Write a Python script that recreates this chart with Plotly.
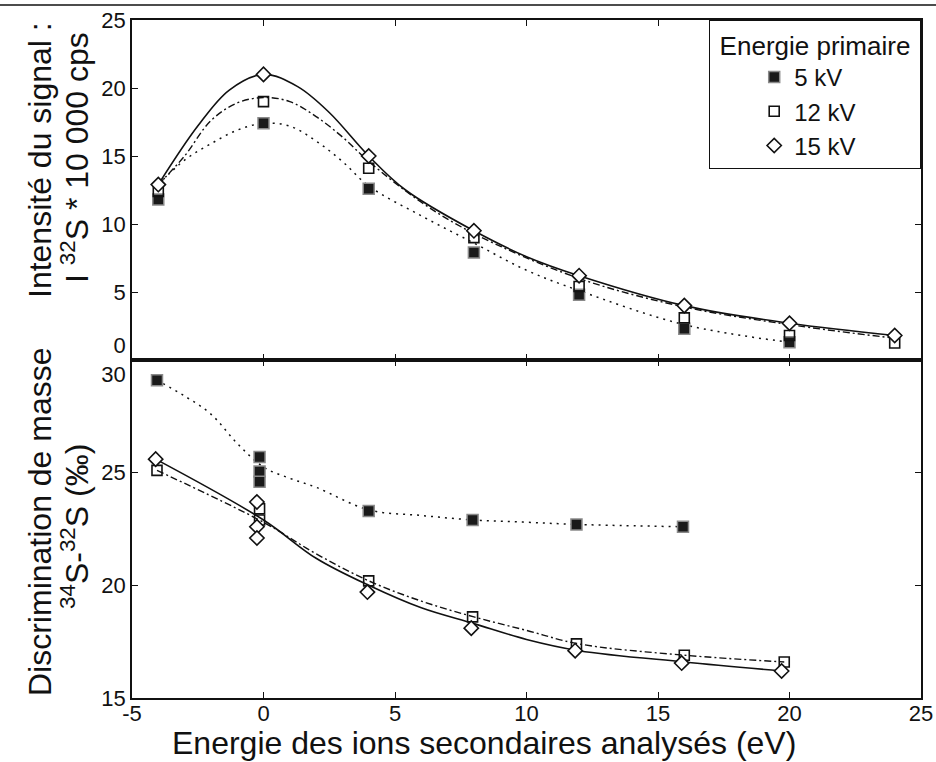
import plotly.graph_objects as go

# ---------------- data ----------------
# Top panel: signal intensity  I 32S * 10 000 cps
x_top = [-4, 0, 4, 8, 12, 16, 20, 24]
top_15kV = [12.9, 21.0, 15.0, 9.5, 6.2, 4.0, 2.7, 1.8]
top_12kV = [12.4, 19.0, 14.1, 9.0, 5.4, 3.1, 1.8, 1.25]
x_top_5kV = [-4, 0, 4, 8, 12, 16, 20]
top_5kV = [11.8, 17.4, 12.6, 7.9, 4.8, 2.3, 1.3]

# fitted curves, top panel
fit_top_15_x = [-4, -2.5, -1.3, 0, 1.3, 2.5, 4, 5.4, 8, 10, 12, 16, 20, 24]
fit_top_15_y = [12.9, 17.2, 19.85, 21.0, 20.1, 18.2, 15.0, 12.5, 9.5, 7.6, 6.2, 4.0, 2.7, 1.8]
fit_top_12_x = [-4, -3, -2, -1, 0, 1, 2, 3, 4, 6, 8, 12, 16, 20, 24]
fit_top_12_y = [12.9, 15.0, 17.6, 18.9, 19.3, 19.0, 17.9, 16.4, 14.6, 11.6, 9.3, 6.0, 3.9, 2.6, 1.6]
fit_top_5_x = [-4, -3, -2, -1, 0, 1, 2, 3, 4, 6, 8, 10, 12, 16, 20]
fit_top_5_y = [12.9, 14.7, 15.9, 16.9, 17.4, 17.2, 16.1, 14.6, 12.8, 10.6, 8.6, 6.6, 5.1, 2.6, 1.3]

# Bottom panel: mass discrimination 34S-32S (permil)
x_bot_15kV = [-4.1, -0.25, -0.25, -0.25, 3.95, 7.9, 11.85, 15.9, 19.7]
bot_15kV = [25.6, 23.7, 22.6, 22.1, 19.7, 18.1, 17.1, 16.55, 16.2]
x_bot_12kV = [-4.05, -0.15, -0.15, 4.0, 7.95, 11.9, 16.0, 19.8]
bot_12kV = [25.1, 23.4, 22.9, 20.2, 18.6, 17.4, 16.9, 16.6]
x_bot_5kV = [-4.05, -0.15, -0.15, -0.15, 4.0, 7.95, 11.9, 15.95]
bot_5kV = [29.1, 25.7, 25.05, 24.6, 23.3, 22.9, 22.7, 22.6]

# fitted curves, bottom panel
fit_bot_15_x = [-4.1, 0, 2, 4, 6, 8, 10, 12, 16, 19.7]
fit_bot_15_y = [25.6, 22.9, 21.2, 20.0, 19.0, 18.3, 17.6, 17.1, 16.6, 16.2]
fit_bot_12_x = [-4.05, 0, 2, 4, 6, 8, 10, 12, 16, 19.8]
fit_bot_12_y = [25.1, 22.8, 21.4, 20.2, 19.3, 18.6, 18.0, 17.4, 16.9, 16.6]
fit_bot_5_x = [-4.05, -3, -2, -1, 0, 1, 2, 4, 6, 8, 10, 12, 16]
fit_bot_5_y = [29.1, 28.4, 27.6, 26.3, 25.25, 24.75, 24.35, 23.35, 23.1, 22.9, 22.8, 22.7, 22.6]

series_names = ["5 kV", "12 kV", "15 kV"]
x_ticks = [-5, 0, 5, 10, 15, 20, 25]
x_tick_labels = ["-5", "0", "5", "10", "15", "20", "25"]
top_ticks = [0, 5, 10, 15, 20, 25]
top_tick_labels = ["0<br>\u00a0", "5", "10", "15", "20", "25"]
bot_ticks = [15, 20, 25, 30]
bot_tick_labels = ["15", "20", "25", "\u00a0<br>30"]

# ---------------- styling ----------------
FONT = "Liberation Sans, Arial, sans-serif"
BLACK = "#111111"
m5 = dict(symbol="square", size=11, color="#1a1a1a", line=dict(color="#8a8a8a", width=1.5))
m12 = dict(symbol="square-open", size=10, color=BLACK, line=dict(width=1.6))
m15 = dict(symbol="diamond", size=11, color="white", line=dict(color=BLACK, width=1.6))
l5 = dict(color=BLACK, width=1.5, dash="2px,5px", shape="spline")
l12 = dict(color=BLACK, width=1.4, dash="7px,3px,2px,3px", shape="spline")
l15 = dict(color=BLACK, width=1.6, dash="solid", shape="spline")

fig = go.Figure()

# curves (top)
fig.add_trace(go.Scatter(x=fit_top_5_x, y=fit_top_5_y, mode="lines", line=l5,
                         xaxis="x2", yaxis="y2", showlegend=False, hoverinfo="skip"))
fig.add_trace(go.Scatter(x=fit_top_12_x, y=fit_top_12_y, mode="lines", line=l12,
                         xaxis="x2", yaxis="y2", showlegend=False, hoverinfo="skip"))
fig.add_trace(go.Scatter(x=fit_top_15_x, y=fit_top_15_y, mode="lines", line=l15,
                         xaxis="x2", yaxis="y2", showlegend=False, hoverinfo="skip"))
# curves (bottom)
fig.add_trace(go.Scatter(x=fit_bot_5_x, y=fit_bot_5_y, mode="lines", line=l5,
                         xaxis="x", yaxis="y", showlegend=False, hoverinfo="skip"))
fig.add_trace(go.Scatter(x=fit_bot_12_x, y=fit_bot_12_y, mode="lines", line=l12,
                         xaxis="x", yaxis="y", showlegend=False, hoverinfo="skip"))
fig.add_trace(go.Scatter(x=fit_bot_15_x, y=fit_bot_15_y, mode="lines", line=l15,
                         xaxis="x", yaxis="y", showlegend=False, hoverinfo="skip"))

# markers (top, with legend)
fig.add_trace(go.Scatter(x=x_top_5kV, y=top_5kV, mode="markers", marker=m5, name=series_names[0],
                         legendgroup="5", xaxis="x2", yaxis="y2"))
fig.add_trace(go.Scatter(x=x_top, y=top_12kV, mode="markers", marker=m12, name=series_names[1],
                         legendgroup="12", xaxis="x2", yaxis="y2"))
fig.add_trace(go.Scatter(x=x_top, y=top_15kV, mode="markers", marker=m15, name=series_names[2],
                         legendgroup="15", xaxis="x2", yaxis="y2"))
# markers (bottom)
fig.add_trace(go.Scatter(x=x_bot_5kV, y=bot_5kV, mode="markers", marker=m5, name=series_names[0],
                         legendgroup="5", showlegend=False, xaxis="x", yaxis="y"))
fig.add_trace(go.Scatter(x=x_bot_12kV, y=bot_12kV, mode="markers", marker=m12, name=series_names[1],
                         legendgroup="12", showlegend=False, xaxis="x", yaxis="y"))
fig.add_trace(go.Scatter(x=x_bot_15kV, y=bot_15kV, mode="markers", marker=m15, name=series_names[2],
                         legendgroup="15", showlegend=False, xaxis="x", yaxis="y"))

W, H = 936, 762
ML, MR, MT, MB = 132, 15, 20, 64
PW, PH = W - ML - MR, H - MT - MB
split = 338 / PH

def px_x(px):
    return (px - ML) / PW

def px_y(py):
    return 1 - (py - MT) / PH

axis_common = dict(showline=True, linecolor=BLACK, linewidth=1.5, mirror="ticks",
                   ticks="inside", ticklen=6, tickwidth=1.2, tickcolor=BLACK,
                   showgrid=False, zeroline=False, automargin=False,
                   tickfont=dict(family=FONT, size=22, color=BLACK))

fig.update_layout(
    width=W, height=H,
    margin=dict(l=ML, r=MR, t=MT, b=MB, autoexpand=False),
    paper_bgcolor="white", plot_bgcolor="white",
    font=dict(family=FONT, color=BLACK),
    xaxis=dict(domain=[0, 1], range=[-5, 25], anchor="y", tickvals=x_ticks,
               ticktext=x_tick_labels, ticklabelstandoff=-5, **axis_common),
    xaxis2=dict(domain=[0, 1], range=[-5, 25], anchor="y2", matches="x", tickvals=x_ticks,
                showticklabels=False, **axis_common),
    yaxis=dict(domain=[0, split], range=[15, 30], anchor="x", tickvals=bot_ticks,
               ticktext=bot_tick_labels, **axis_common),
    yaxis2=dict(domain=[split, 1], range=[0, 25], anchor="x2", tickvals=top_ticks,
                ticktext=top_tick_labels, **axis_common),
    legend=dict(x=1, xanchor="right", y=1, yanchor="top", bgcolor="white",
                bordercolor=BLACK, borderwidth=1.2,
                font=dict(family=FONT, size=24, color=BLACK),
                title=dict(text="\u00a0Energie primaire\u00a0", side="top center",
                           font=dict(family=FONT, size=26, color=BLACK)),
                indentation=44, tracegroupgap=0, itemsizing="trace"),
    showlegend=True,
)

title_font = dict(family=FONT, size=32, color=BLACK)
fig.add_annotation(text="Energie des ions secondaires analysés (eV)", xref="paper", yref="paper",
                   x=px_x(484), y=px_y(743), showarrow=False, font=title_font,
                   xanchor="center", yanchor="middle")
fig.add_annotation(text="Intensité du signal :", xref="paper", yref="paper",
                   x=px_x(40), y=px_y(160), showarrow=False, font=title_font, textangle=-90,
                   xanchor="center", yanchor="middle")
fig.add_annotation(text="I <sup>32</sup>S * 10 000 cps", xref="paper", yref="paper",
                   x=px_x(75), y=px_y(158), showarrow=False, font=title_font, textangle=-90,
                   xanchor="center", yanchor="middle")
fig.add_annotation(text="Discrimination de masse", xref="paper", yref="paper",
                   x=px_x(40), y=px_y(522), showarrow=False, font=title_font, textangle=-90,
                   xanchor="center", yanchor="middle")
fig.add_annotation(text="<sup>34</sup>S-<sup>32</sup>S (‰)", xref="paper", yref="paper",
                   x=px_x(75), y=px_y(527), showarrow=False, font=title_font, textangle=-90,
                   xanchor="center", yanchor="middle")

# frame line along the top of the figure
fig.add_shape(type="line", xref="paper", yref="paper", x0=px_x(0), x1=px_x(W),
              y0=px_y(5), y1=px_y(5), line=dict(color=BLACK, width=1.5))

# the page's default 8px body margin would shift the figure; remove it
fig.write_html("out.html", config={"displayModeBar": False},
               post_script="document.body.style.margin='0px';")
